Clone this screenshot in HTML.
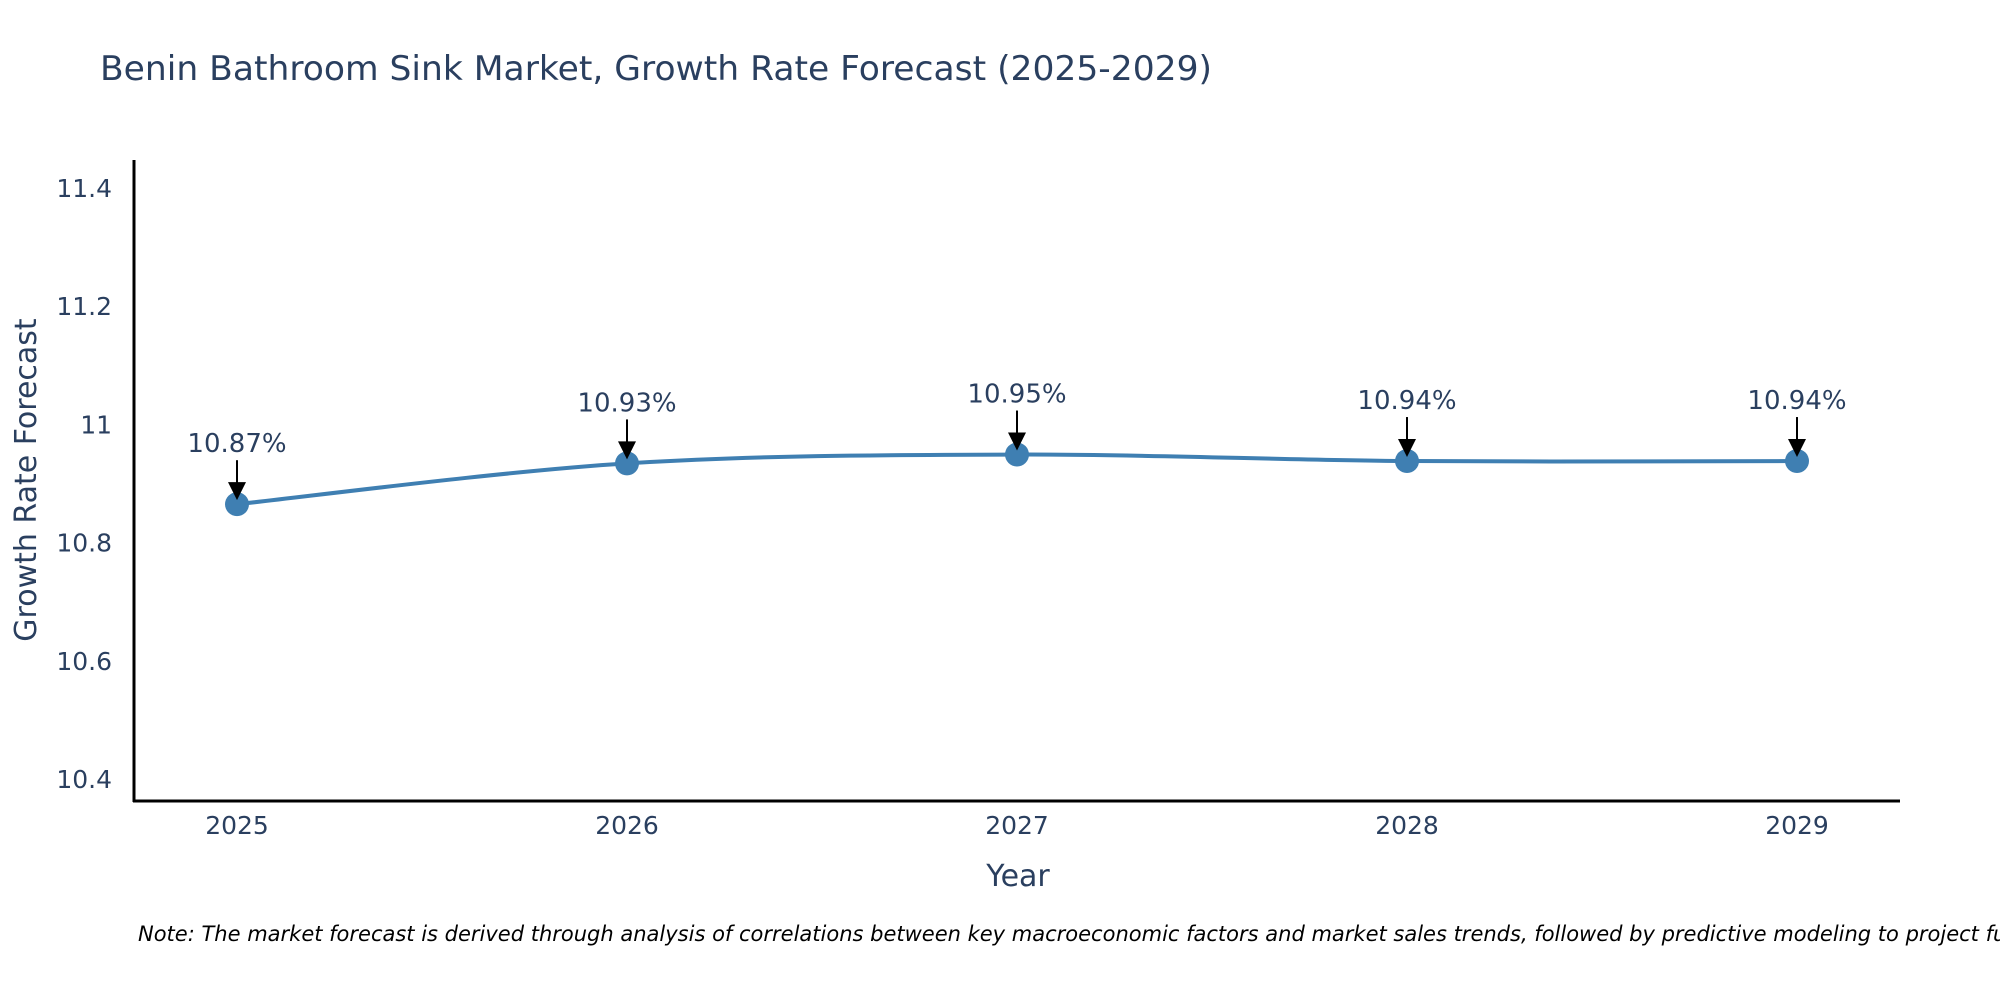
<!DOCTYPE html>
<html><head><meta charset="utf-8"><style>
html,body{margin:0;padding:0;background:#fff;}
svg{display:block;font-family:"DejaVu Sans","Liberation Sans",sans-serif;}
</style></head><body>
<svg id="chart" width="2000" height="1000" viewBox="0 0 2000 1000">
<rect width="2000" height="1000" fill="#fff"/>
<text x="100" y="80" font-size="34" fill="#2a3f5f" textLength="1112" lengthAdjust="spacingAndGlyphs">Benin Bathroom Sink Market, Growth Rate Forecast (2025-2029)</text>
<g id="yticks"></g>
<g id="xticks"></g>
<line x1="134" y1="160" x2="134" y2="802" stroke="#000" stroke-width="3"/>
<line x1="133" y1="801" x2="1900" y2="801" stroke="#000" stroke-width="3"/>
<text transform="translate(36,480) rotate(-90)" text-anchor="middle" font-size="30" fill="#2a3f5f">Growth Rate Forecast</text>
<text x="1018" y="886" text-anchor="middle" font-size="30" fill="#2a3f5f">Year</text>
<g id="series"></g>
<g id="annos"></g>
<text x="138" y="941" font-size="21" font-style="italic" fill="#000">Note: The market forecast is derived through analysis of correlations between key macroeconomic factors and market sales trends, followed by predictive modeling to project future sales.</text>
</svg>
<script>
const years = [2025, 2026, 2027, 2028, 2029];
const values = [10.865, 10.934, 10.949, 10.938, 10.938];
const labels = ["10.87%", "10.93%", "10.95%", "10.94%", "10.94%"];
const yTicks = [10.4, 10.6, 10.8, 11, 11.2, 11.4];
const yTickLabels = ["10.4", "10.6", "10.8", "11", "11.2", "11.4"];

const NS = "http://www.w3.org/2000/svg";
function xs(yr){ return 237 + (yr - 2025) * 390; }
function ys(v){ return 779 - (v - 10.4) * 591; }
function mk(tag, attrs, parent){ const e = document.createElementNS(NS, tag); for (const k in attrs) e.setAttribute(k, attrs[k]); parent.appendChild(e); return e; }

const yg = document.getElementById('yticks');
yTicks.forEach((t, i) => {
  const el = mk('text', {x: 112, y: ys(t) + 9, 'text-anchor': 'end', 'font-size': 25, fill: '#2a3f5f'}, yg);
  
  
  el.textContent = yTickLabels[i];
});
const xg = document.getElementById('xticks');
years.forEach(y => {
  const el = mk('text', {x: xs(y), y: 834, 'text-anchor': 'middle', 'font-size': 25, fill: '#2a3f5f'}, xg);
  
  
  el.textContent = String(y);
});

const pts = years.map((y, i) => [xs(y), ys(values[i])]);
let d = `M${pts[0][0]},${pts[0][1]}`;
for (let i = 0; i < pts.length - 1; i++) {
  const p0 = pts[i - 1] || pts[i], p1 = pts[i], p2 = pts[i + 1], p3 = pts[i + 2] || p2;
  const c1 = [p1[0] + (p2[0] - p0[0]) / 6, p1[1] + (p2[1] - p0[1]) / 6];
  const c2 = [p2[0] - (p3[0] - p1[0]) / 6, p2[1] - (p3[1] - p1[1]) / 6];
  d += ` C${c1[0]},${c1[1]} ${c2[0]},${c2[1]} ${p2[0]},${p2[1]}`;
}
const sg = document.getElementById('series');
const line = mk('path', {d: d, fill: 'none', stroke: '#3f7fb2', 'stroke-width': 4}, sg);


pts.forEach(p => {
  const c = mk('circle', {cx: p[0], cy: p[1], r: 12, fill: '#3f7fb2'}, sg);
  
  
});

const ag = document.getElementById('annos');
pts.forEach((p, i) => {
  const x = p[0], y = p[1];
  const ln = mk('line', {x1: x, y1: y - 44, x2: x, y2: y - 18, stroke: '#000', 'stroke-width': 2}, ag);
  
  
  const hd = mk('polygon', {points: `${x-9},${y-22} ${x+9},${y-22} ${x},${y-4}`, fill: '#000'}, ag);
  
  
  const t = mk('text', {x: x, y: y - 52, 'text-anchor': 'middle', 'font-size': 26, fill: '#2a3f5f'}, ag);
  
  
  t.textContent = labels[i];
});
</script>
</body></html>
